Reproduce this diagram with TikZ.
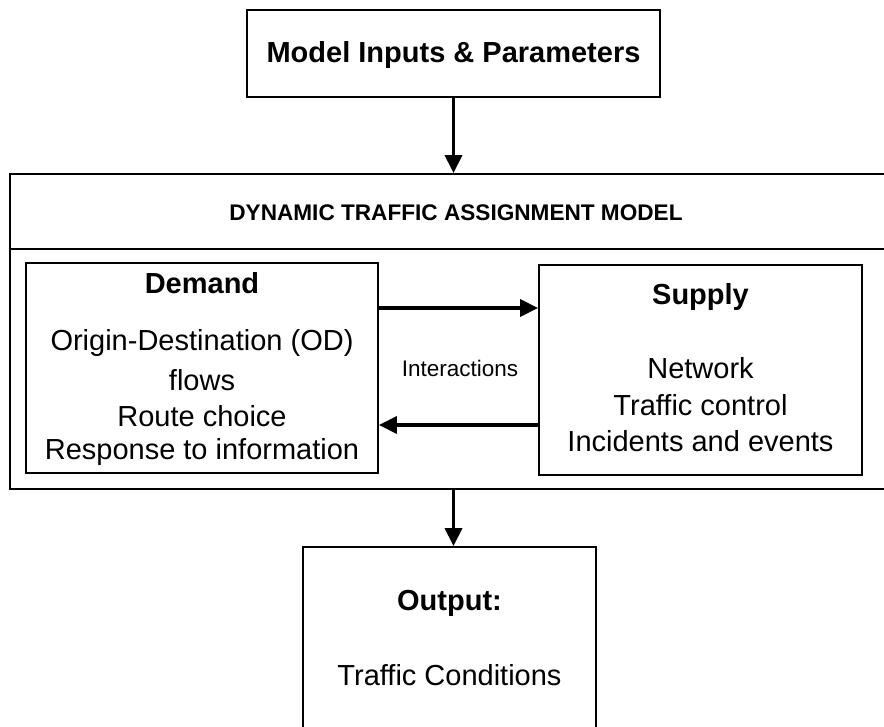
\documentclass[tikz,border=0pt]{standalone}
\usepackage{fontspec}
\setmainfont{Liberation Sans}
\usetikzlibrary{arrows.meta}
\begin{document}
\begin{tikzpicture}[x=1pt,y=-1pt,
  boxline/.style={draw=black,line width=1.8pt,inner sep=0pt,rectangle},
  arr/.style={line width=3.4pt,-{Triangle[length=18pt,width=17pt]}},
  big/.style={font=\fontsize{29}{34}\selectfont},
  bigb/.style={font=\fontsize{29}{34}\selectfont\bfseries},
  txt/.style={inner sep=0pt,anchor=center}]
\useasboundingbox (0,0) rectangle (884,727);
\clip (0,0) rectangle (884,727);
% boxes
\node[boxline,minimum width=413pt,minimum height=87pt] (inputs) at (453.5,53.5) {};
\node[boxline,minimum width=890pt,minimum height=315pt] (dta) at (455,331.5) {};
\node[boxline,minimum width=352pt,minimum height=210pt] (demand) at (202,368) {};
\node[boxline,minimum width=323pt,minimum height=210pt] (supply) at (700.5,370) {};
\node[boxline,minimum width=293pt,minimum height=220pt] (output) at (449.5,657) {};
\coordinate (divl) at (10,249);
\coordinate (divr) at (900,249);
\draw[line width=1.8pt] (divl) -- (divr);
% texts
\node[txt,bigb] (tin) at (453.5,55) {Model Inputs \& Parameters};
\node[txt,font=\fontsize{22.6}{26}\selectfont\bfseries] (tdta) at (456,213) {DYNAMIC TRAFFIC ASSIGNMENT MODEL};
\node[txt,bigb] (tdem) at (202,283) {Demand};
\node[txt,big] (td1) at (202,343) {Origin-Destination (OD)};
\node[txt,big] (td2) at (202,380) {flows};
\node[txt,big] (td3) at (202,416) {Route choice};
\node[txt,big] (td4) at (202,452) {Response to information};
\node[txt,bigb] (tsup) at (700.5,297) {Supply};
\node[txt,big] (ts1) at (700.5,368) {Network};
\node[txt,big] (ts2) at (700.5,405) {Traffic control};
\node[txt,big] (ts3) at (700.5,441) {Incidents and events};
\node[txt,font=\fontsize{22.5}{26}\selectfont] (tint) at (460,368) {Interactions};
\node[txt,bigb] (tout) at (449.5,603) {Output:};
\node[txt,big] (tcond) at (449.5,675) {Traffic Conditions};
% arrows
\draw[arr] (inputs.south) -- (inputs.south |- dta.north);
\draw[arr] ([yshift=60pt]demand.east) -- ([yshift=60pt]demand.east -| supply.west);
\draw[arr] ([yshift=-57pt]demand.east -| supply.west) -- ([yshift=-57pt]demand.east);
\draw[arr] (dta.south -| inputs.south) -- (output.north -| inputs.south);
\end{tikzpicture}
\end{document}
